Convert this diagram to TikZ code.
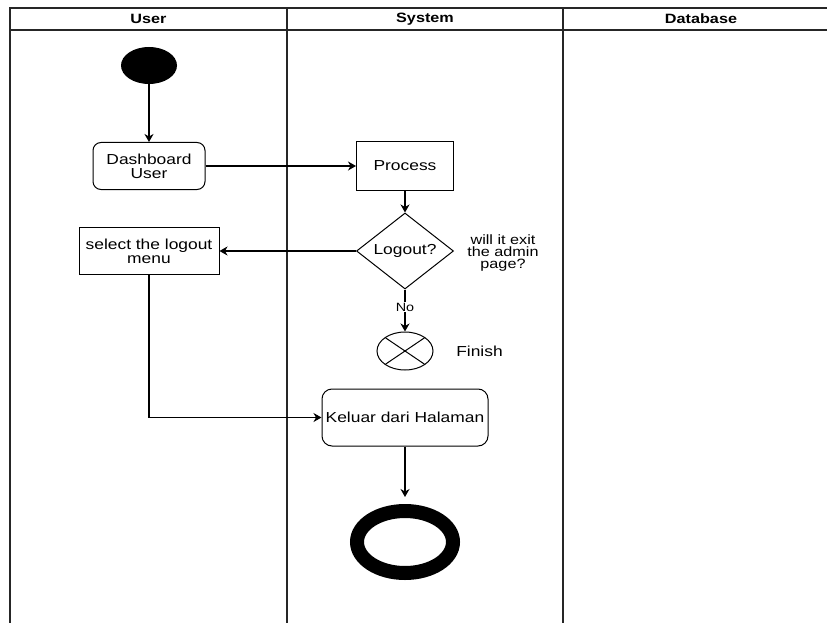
\documentclass[tikz,border=0pt]{standalone}
\usepackage{fontspec}
\setmainfont{Liberation Sans}[FakeStretch=1.2]
\usetikzlibrary{shapes.geometric,arrows.meta}
\begin{document}
\begin{tikzpicture}[x=1pt,y=-1pt,
  lane/.style={line width=1.2pt, draw=black!85},
  hdr/.style={font=\fontsize{13.5}{15}\selectfont\bfseries, inner sep=0pt},
  txt/.style={font=\fontsize{14.5}{14}\selectfont, align=center},
  box/.style={txt, draw, line width=1pt},
  rbox/.style={box, rounded corners=8pt},
  arr/.style={line width=1.1pt, -{Stealth[length=8pt,width=9pt,inset=2.5pt]}}
]
\useasboundingbox (0,0) rectangle (827,623);
\fill[white] (0,0) rectangle (827,623);
% swimlanes
\draw[lane] (10,623) -- (10,8) -- (827,8);
\draw[lane] (10,30) -- (827,30);
\draw[lane] (287,8) -- (287,623);
\draw[lane] (563,8) -- (563,623);
\node[hdr] (hu) at (148.5,19) {User};
\node[hdr] (hs) at (425,19) {System};
\node[hdr] (hd) at (701,19) {Database};
% nodes
\node[ellipse, fill=black, minimum width=56pt, minimum height=37pt, inner sep=0pt] (start) at (149,65.5) {};
\node[rbox, minimum width=112pt, minimum height=47pt] (dash) at (149,166) {Dashboard\\User};
\node[box, minimum width=97pt, minimum height=48pt] (proc) at (405,166) {Process};
\node[txt, draw, line width=1pt, diamond, minimum width=97pt, minimum height=66pt, inner sep=0pt] (dec) at (405,251) {Logout?};
\node[box, minimum width=140pt, minimum height=47pt] (sel) at (149,251) {select the logout\\menu};
\node[font=\fontsize{13.5}{12}\selectfont, align=center] (q) at (503,253.5) {will it exit\\the admin\\page?};
\node[draw, line width=1pt, ellipse, minimum width=56pt, minimum height=38pt, inner sep=0pt] (fin) at (405,351) {};
\draw[line width=1pt] (fin.center) ++(-19.8,-13.4) -- ++(39.6,26.8);
\draw[line width=1pt] (fin.center) ++(19.8,-13.4) -- ++(-39.6,26.8);
\node[txt] (finl) at (479.5,351) {Finish};
\node[rbox, rounded corners=10pt, minimum width=166pt, minimum height=57pt] (kel) at (405,417.5) {Keluar dari Halaman};
\node[draw, ellipse, line width=14pt, minimum width=96pt, minimum height=62pt, inner sep=0pt] (end) at (405,542) {};
% connectors
\draw[arr] (start) -- (dash);
\draw[arr] (dash) -- (proc);
\draw[arr] (proc) -- (dec);
\draw[arr] (dec) -- (sel);
\draw[arr] (dec) -- node[pos=0.42, fill=white, inner sep=1pt, font=\fontsize{12}{12}\selectfont] (no) {No} (fin);
\draw[arr] (sel.south) |- (kel.west);
\draw[arr, shorten >=7pt] (kel) -- (end);
\end{tikzpicture}
\end{document}
